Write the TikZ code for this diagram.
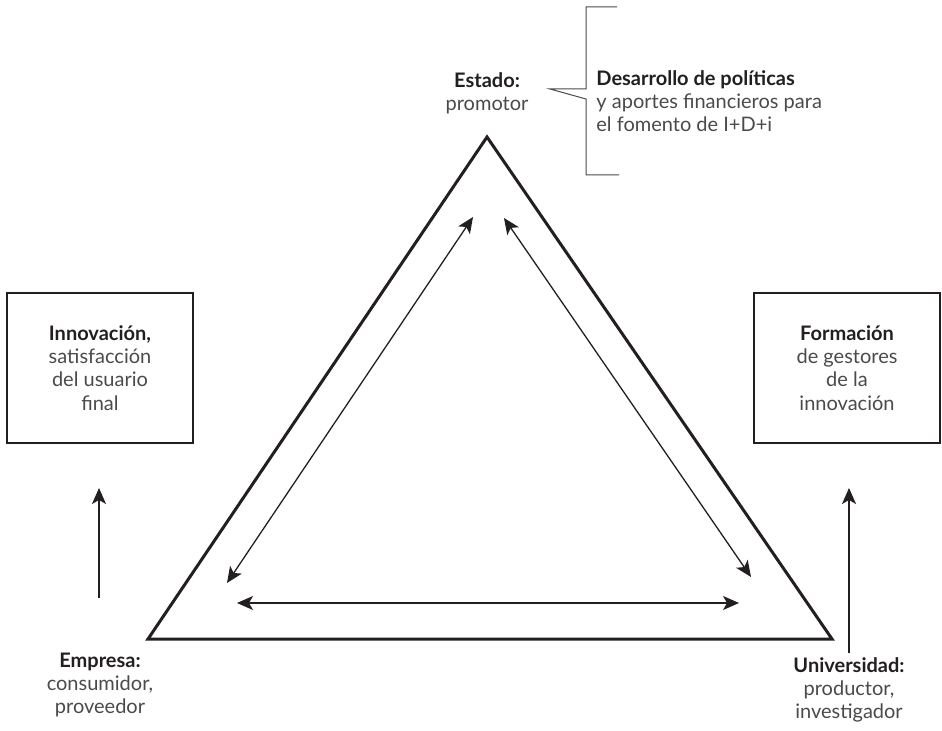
\documentclass[tikz,border=0pt]{standalone}
\usepackage{fontspec}
\setmainfont{Lato}
\usetikzlibrary{arrows.meta}
\definecolor{txtgray}{HTML}{4A4A4A}
\definecolor{txtdark}{HTML}{231F20}
\tikzset{every picture/.style={x=0.5pt,y=-0.5pt}}
\tikzset{
  lbl/.style={align=center, text=txtgray, inner sep=0pt, font=\fontsize{10}{11.6}\selectfont},
  caja/.style={draw=txtdark, line width=1pt, minimum width=93pt, minimum height=75pt},
  flecha/.style={txtdark, line width=0.65pt, {Stealth[length=8pt,width=7pt,inset=2pt]}-{Stealth[length=8pt,width=7pt,inset=2pt]}},
  subida/.style={txtdark, line width=0.7pt, -{Stealth[length=8pt,width=7pt,inset=2pt]}},
}
\newcommand{\negr}[1]{{\bfseries\color{txtdark}#1}}

\begin{document}
\begin{tikzpicture}
        \useasboundingbox (0,0) rectangle (942,731);
        % Triangle of actors
        \coordinate (apex) at (487,137);
        \coordinate (bl) at (148,639);
        \coordinate (br) at (832,639);
        \draw[txtdark, line width=1.5pt, line join=miter] (apex) -- (br) -- (bl) -- cycle;

        % Inner double arrows
        \coordinate (ea) at (227,583);
        \coordinate (eb) at (473,217);
        \coordinate (ua) at (504,218);
        \coordinate (ub) at (751,577);
        \coordinate (ha) at (237,603);
        \coordinate (hb) at (739,603);
        \draw[flecha] (ea) -- (eb);
        \draw[flecha] (ua) -- (ub);
        \draw[flecha] (ha) -- (hb);

        % Actors
        \node[lbl] (estado) at (487,93) {\negr{Estado:}\\promotor};
        \node[lbl] (empresa) at (100,685) {\negr{Empresa:}\\consumidor,\\proveedor};
        \node[lbl] (univ) at (849,690) {\negr{Universidad:}\\productor,\\investigador};

        % Boxes
        \node[caja, lbl] (innov) at (100,368) {\negr{Innovación,}\\satisfacción\\del usuario\\final};
        \node[caja, lbl] (forma) at (847,368) {\negr{Formación}\\de gestores\\de la\\innovación};
        \coordinate (empArr) at (99,598);
        \coordinate (innovArr) at (99,488);
        \coordinate (univArr) at (849,653);
        \coordinate (formaArr) at (849,488);
        \draw[subida] (empArr) -- (innovArr);
        \draw[subida] (univArr) -- (formaArr);

        % Bracket with policies
        \draw[txtgray, line width=0.5pt] (617,7) -- (586,7) -- (586,89) -- (550,89)
            -- (586,99) -- (586,175) -- (619,175);
        \node[lbl, anchor=west, align=left] (politicas) at (596,101)
            {\negr{Desarrollo de políticas}\\y aportes financieros para\\el fomento de I+D+i};
\end{tikzpicture}
\end{document}
